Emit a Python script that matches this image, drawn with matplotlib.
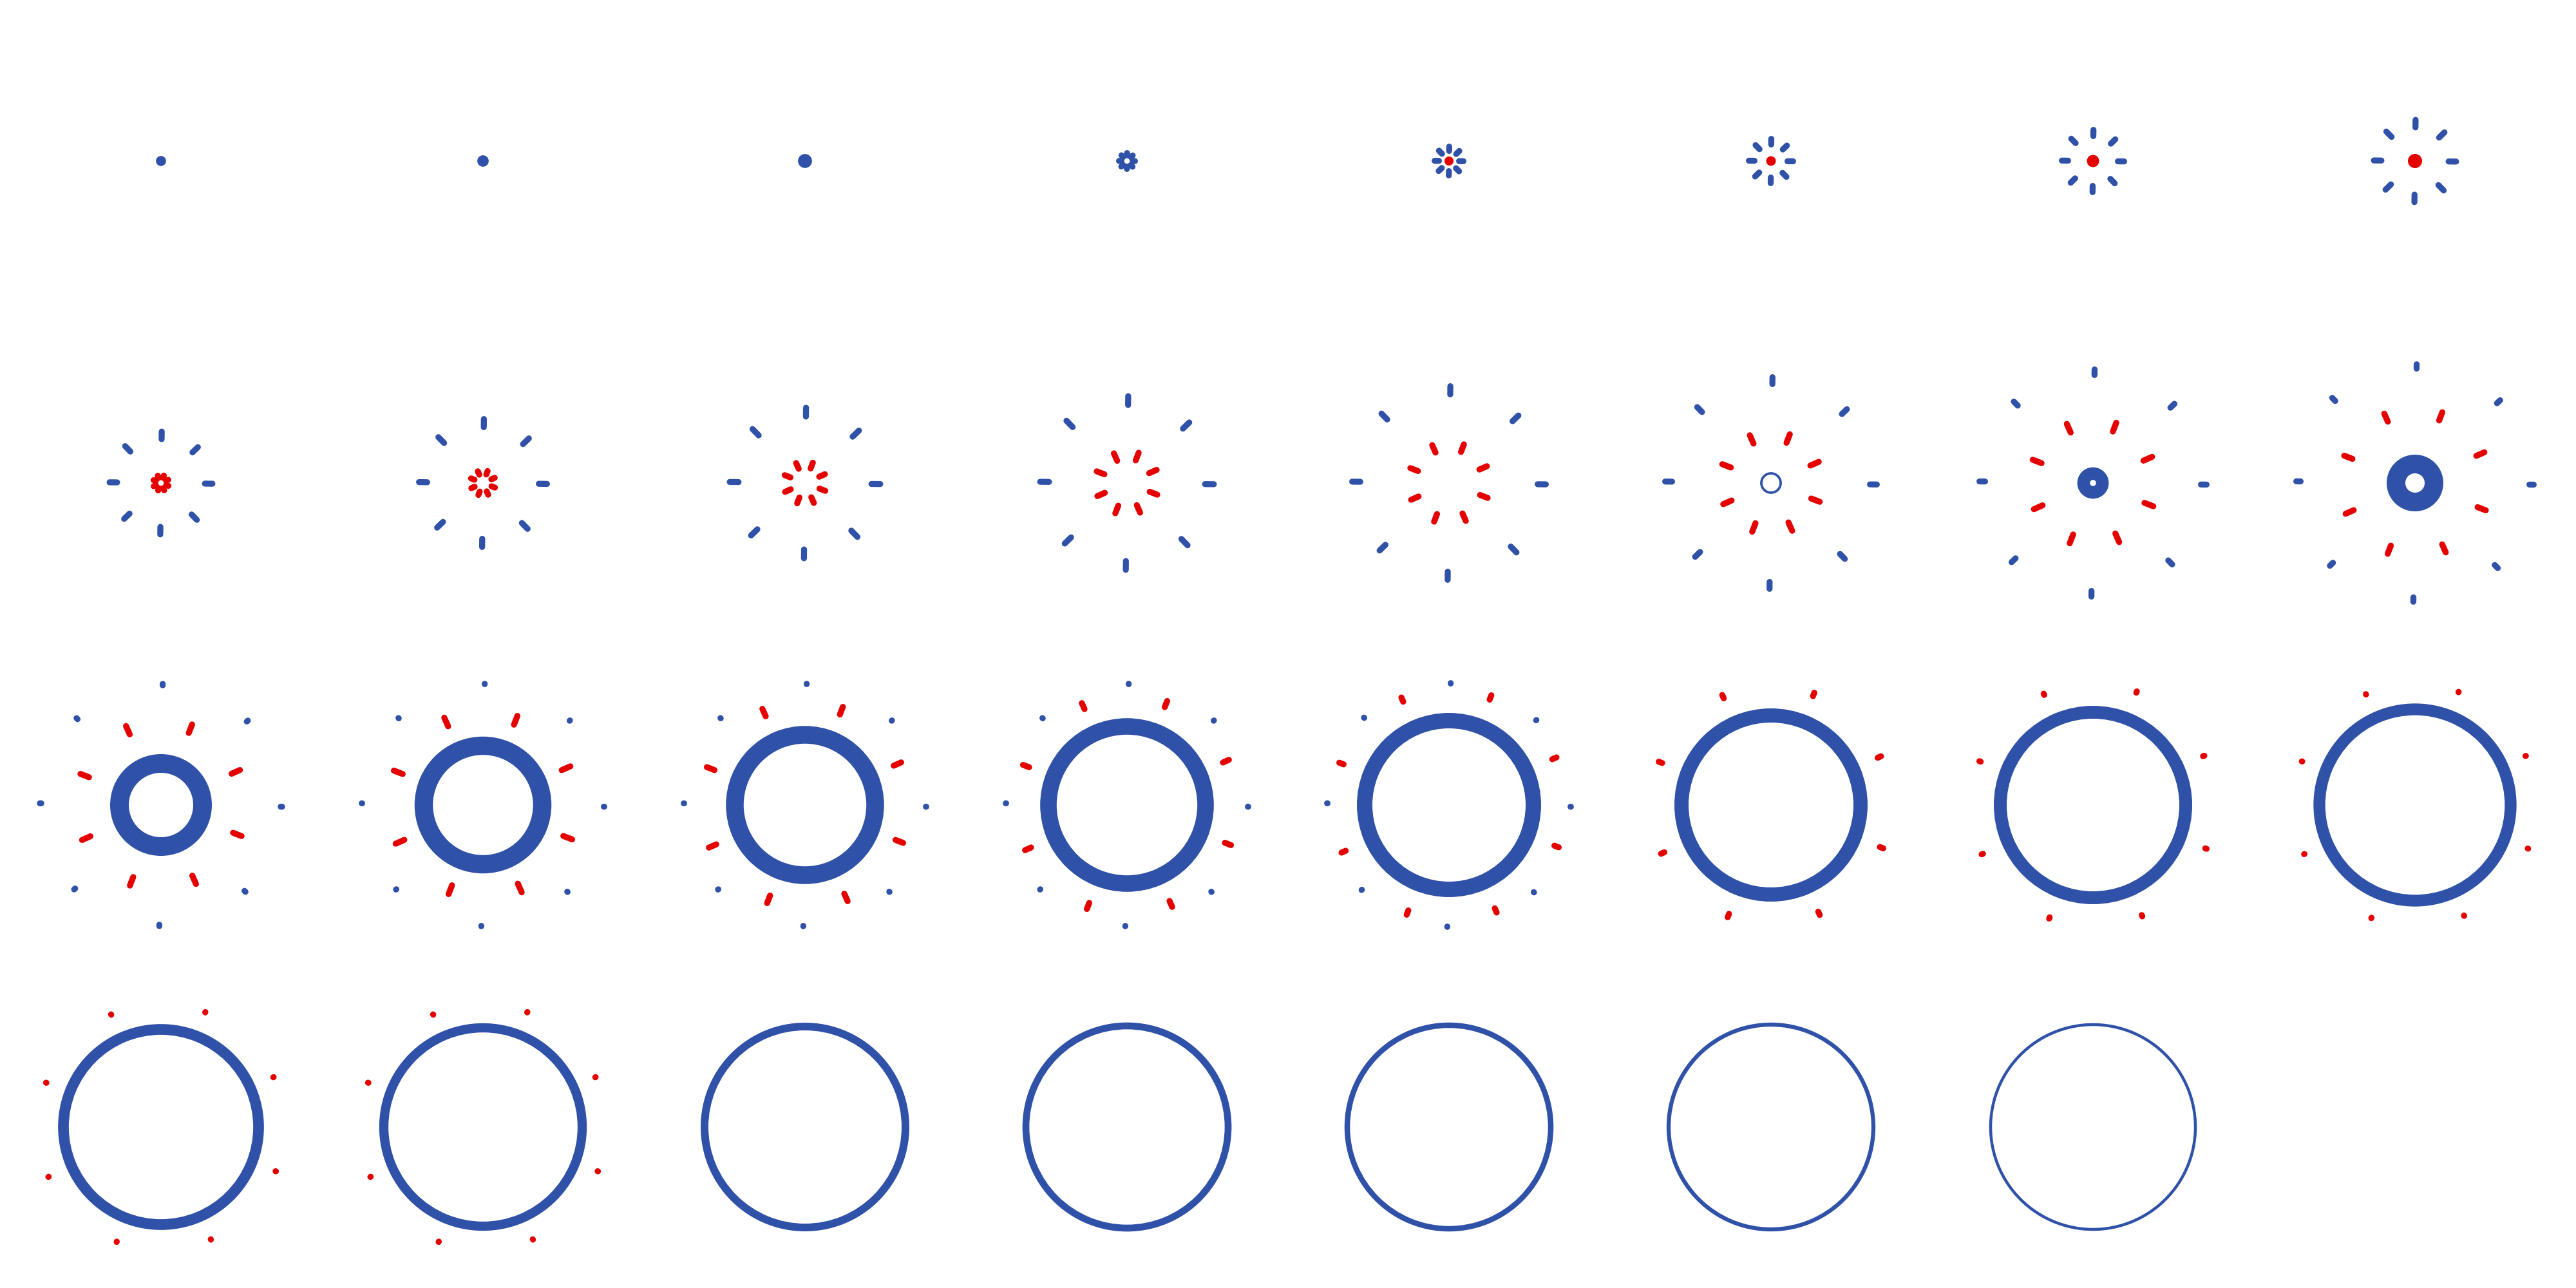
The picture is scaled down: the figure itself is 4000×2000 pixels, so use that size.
import numpy as np
import matplotlib
matplotlib.use("Agg")
import matplotlib.pyplot as plt
from matplotlib.patches import Circle, Annulus

# frame grid of the burst, 8 frames per row (pixels)
n_cols = 8
n_frames = 31
nan = np.nan

# outer blue sparks: radius of dash centre and full dash length
blue_r = [nan, nan, nan, 10.5, 19, 30, 43.5, 58,
          74, 93, 110, 128, 144, 159, 172, 181,
          187, 188, 188, 188, 189, nan, nan, nan,
          nan, nan, nan, nan, nan, nan, nan]
blue_len = [nan, nan, nan, 13, 16, 18, 19, 21,
            21, 22, 23, 23, 22, 20, 18, 16,
            11.5, 10, 9.5, 9.5, 9, nan, nan, nan,
            nan, nan, nan, nan, nan, nan, nan]

# inner red sparks
red_r = [nan, nan, nan, nan, nan, nan, nan, nan,
         10.5, 17, 29, 44, 58, 74, 93, 111,
         127, 141, 157, 168, 179, 184, 188, 188,
         191, 191, nan, nan, nan, nan, nan]
red_len = [nan, nan, nan, nan, nan, nan, nan, nan,
           13, 15, 19, 22, 22, 23.5, 24, 23,
           23.5, 24, 22, 19.5, 16.5, 15, 11.5, 10,
           9, 9, nan, nan, nan, nan, nan]

# solid core dot (diameter) and its colour
core_d = [15.7, 17.7, 21.7, nan, 14, 15, 19, 22] + [nan] * 23
core_col = ['b', 'b', 'b', '', 'r', 'r', 'r', 'r'] + [''] * 23

# expanding blue shell: mid radius and stroke width
ring_r = [nan] * 13 + [15, 14.6, 29.5,
                       64.5, 92, 109, 122, 131, 139, 144, 148.5,
                       151.5, 154, 156, 157, 158, 159, 159]
ring_w = [nan] * 13 + [3.8, 19.6, 29,
                       29, 28.5, 27.5, 25.6, 24, 22, 20, 18.3,
                       16.7, 14.3, 12, 10.7, 8.5, 6.3, 4.5]

BLUE = '#2f51a8'
RED = '#e50000'
cols = {'b': BLUE, 'r': RED}
DPI = 100
cell = 500
spark_w = 9.3
px2pt = 72.0 / DPI


def sparks(ax, cx, cy, r, length, angles, color):
    half = max((length - spark_w) / 2.0, 0.3)
    for a in np.deg2rad(angles):
        s, c = np.sin(a), np.cos(a)
        xs = [cx + (r - half) * s, cx + (r + half) * s]
        ys = [cy - (r - half) * c, cy - (r + half) * c]
        ax.plot(xs, ys, color=color, lw=spark_w * px2pt,
                solid_capstyle='round')


fig = plt.figure(figsize=(40, 20), dpi=DPI)
ax = fig.add_axes([0, 0, 1, 1])
ax.set_xlim(0, 4000)
ax.set_ylim(2000, 0)
ax.set_aspect('equal')
ax.axis('off')

blue_ang = np.arange(8) * 45.0 + 0.8
red_ang = np.arange(8) * 45.0 + 22.5 - 1.4

for i in range(n_frames):
    cx = cell / 2 + cell * (i % n_cols)
    cy = cell / 2 + cell * (i // n_cols)
    if not np.isnan(ring_r[i]):
        ax.add_patch(Annulus((cx, cy), ring_r[i] + ring_w[i] / 2, ring_w[i],
                             color=BLUE, lw=0))
    if not np.isnan(core_d[i]):
        ax.add_patch(Circle((cx, cy), core_d[i] / 2, color=cols[core_col[i]], lw=0))
    if not np.isnan(red_r[i]):
        sparks(ax, cx, cy, red_r[i], red_len[i], red_ang, RED)
    if not np.isnan(blue_r[i]):
        sparks(ax, cx, cy, blue_r[i], blue_len[i], blue_ang, BLUE)

fig.savefig('out.png', dpi=DPI, facecolor='white')
